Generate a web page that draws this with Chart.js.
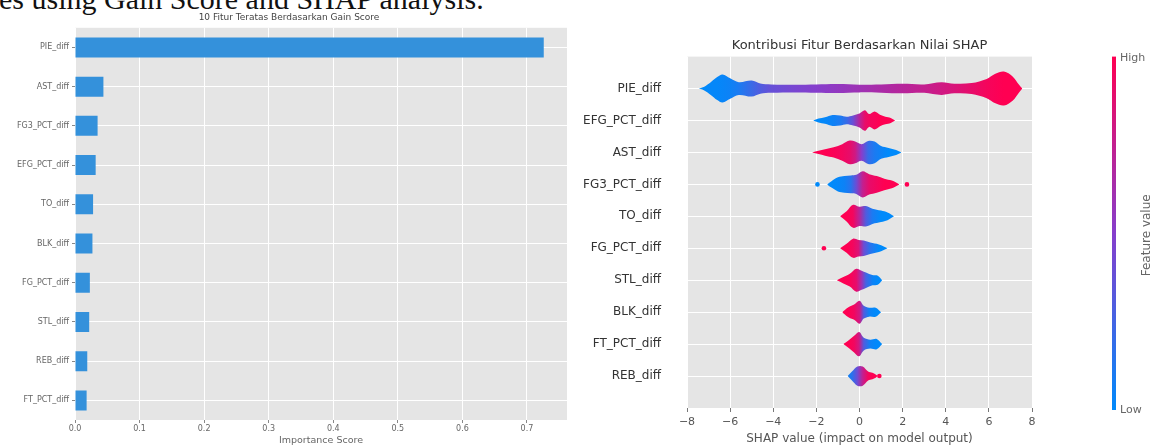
<!DOCTYPE html>
<html>
<head>
<meta charset="utf-8">
<script src="https://cdn.jsdelivr.net/npm/chart.js@4.4.1/dist/chart.umd.min.js"></script>
<style>
  html, body { margin: 0; padding: 0; background: #fff; width: 1155px; height: 446px; overflow: hidden; }
  .caption { position: absolute; left: -1px; top: -15px; font: 30px/28px 'Liberation Serif', serif; color: #111; white-space: nowrap; }
  #gainChart { position: absolute; left: 0; top: 0; }
  #shapChart { position: absolute; left: 570px; top: 0; }
</style>
</head>
<body>
<div class="caption">es using Gain Score and SHAP analysis.</div>
<canvas id="gainChart" width="580" height="446"></canvas>
<canvas id="shapChart" width="585" height="446"></canvas>
<script>
// left panel: gain score
const gainFeatures = ['PIE_diff', 'AST_diff', 'FG3_PCT_diff', 'EFG_PCT_diff', 'TO_diff',
  'BLK_diff', 'FG_PCT_diff', 'STL_diff', 'REB_diff', 'FT_PCT_diff'];
const gainScores = [0.726, 0.044, 0.035, 0.032, 0.028, 0.027, 0.023, 0.022, 0.019, 0.018];
const gainMax = 0.762;

// right panel: SHAP beeswarm, top to bottom
const shapFeatures = ['PIE_diff', 'EFG_PCT_diff', 'AST_diff', 'FG3_PCT_diff', 'TO_diff',
  'FG_PCT_diff', 'STL_diff', 'BLK_diff', 'FT_PCT_diff', 'REB_diff'];
const shapTicks = [-8, -6, -4, -2, 0, 2, 4, 6, 8];

// swarm outline: [shap value, half thickness (rows), feature value 0..1]
const pieSwarm = [[-7.45, 0, 0], [-7.2, 0.06, 0], [-6.9, 0.2, 0.02], [-6.6, 0.36, 0.02], [-6.35, 0.44, 0.03],
  [-6.0, 0.32, 0.05], [-5.6, 0.2, 0.1], [-5.0, 0.25, 0.22], [-4.6, 0.16, 0.3], [-4.1, 0.13, 0.38],
  [-3.0, 0.12, 0.45], [-2.0, 0.13, 0.5], [-1.0, 0.14, 0.55], [0.0, 0.12, 0.6], [1.0, 0.13, 0.65],
  [2.0, 0.15, 0.7], [3.0, 0.13, 0.75], [3.8, 0.2, 0.8], [4.4, 0.15, 0.84], [5.2, 0.17, 0.9],
  [5.9, 0.3, 0.96], [6.3, 0.46, 0.98], [6.7, 0.53, 1], [7.1, 0.38, 1], [7.4, 0.12, 1], [7.55, 0, 1]];
const efgSwarm = [[-2.15, 0, 0], [-1.9, 0.06, 0], [-1.6, 0.1, 0.02], [-1.25, 0.17, 0.05], [-0.9, 0.16, 0.1],
  [-0.6, 0.12, 0.2], [-0.3, 0.16, 0.4], [0.0, 0.22, 0.7], [0.25, 0.32, 0.9], [0.45, 0.2, 0.95],
  [0.7, 0.28, 0.97], [0.95, 0.18, 1], [1.2, 0.12, 1], [1.45, 0.08, 1], [1.65, 0, 1]];
const astSwarm = [[-2.2, 0, 1], [-1.9, 0.05, 1], [-1.6, 0.1, 1], [-1.2, 0.16, 0.98], [-0.8, 0.26, 0.95],
  [-0.45, 0.37, 0.9], [-0.2, 0.34, 0.8], [0.1, 0.26, 0.5], [0.4, 0.36, 0.2], [0.7, 0.34, 0.1],
  [1.0, 0.2, 0.05], [1.35, 0.14, 0], [1.7, 0.08, 0], [1.95, 0, 0]];
const fg3Swarm = [[-1.5, 0, 0], [-1.3, 0.1, 0], [-1.0, 0.22, 0.02], [-0.7, 0.26, 0.05], [-0.4, 0.28, 0.15],
  [-0.15, 0.3, 0.4], [0.15, 0.41, 0.75], [0.45, 0.32, 0.9], [0.8, 0.26, 0.95], [1.15, 0.18, 1],
  [1.5, 0.12, 1], [1.85, 0, 1]];
const toSwarm = [[-0.9, 0, 1], [-0.6, 0.16, 1], [-0.3, 0.36, 0.95], [0.0, 0.3, 0.7], [0.3, 0.32, 0.3],
  [0.6, 0.24, 0.1], [1.0, 0.18, 0], [1.3, 0.12, 0], [1.6, 0, 0]];
const fgSwarm = [[-0.9, 0, 1], [-0.6, 0.14, 1], [-0.3, 0.3, 0.95], [-0.05, 0.26, 0.85], [0.2, 0.24, 0.4],
  [0.5, 0.18, 0.15], [0.9, 0.12, 0], [1.3, 0, 0]];
const stlSwarm = [[-1.05, 0, 1], [-0.75, 0.1, 1], [-0.45, 0.2, 0.98], [-0.15, 0.36, 0.9], [0.1, 0.3, 0.6],
  [0.3, 0.24, 0.25], [0.6, 0.16, 0.05], [0.85, 0.14, 0], [1.05, 0, 0]];
const blkSwarm = [[-0.8, 0, 1], [-0.55, 0.14, 1], [-0.25, 0.24, 0.95], [0.0, 0.36, 0.8], [0.2, 0.2, 0.3],
  [0.45, 0.14, 0.05], [0.75, 0.14, 0], [1.0, 0, 0]];
const ftSwarm = [[-0.75, 0, 1], [-0.5, 0.12, 1], [-0.25, 0.26, 0.95], [-0.02, 0.38, 0.8], [0.2, 0.2, 0.3],
  [0.5, 0.14, 0.05], [0.8, 0.16, 0], [1.05, 0, 0]];
const rebSwarm = [[-0.55, 0, 0.05], [-0.35, 0.14, 0.15], [-0.1, 0.3, 0.4], [0.15, 0.3, 0.75],
  [0.4, 0.14, 0.95], [0.6, 0.1, 1], [0.75, 0.05, 1], [0.85, 0, 1]];
const swarms = [pieSwarm, efgSwarm, astSwarm, fg3Swarm, toSwarm, fgSwarm, stlSwarm, blkSwarm, ftSwarm, rebSwarm];

// single stray dots: [feature, shap value, feature value]
const shapOutliers = [['FG3_PCT_diff', -1.95, 0], ['FG3_PCT_diff', 2.2, 1],
  ['FG_PCT_diff', -1.65, 1], ['REB_diff', 0.92, 1]];

Chart.defaults.font.family = "'DejaVu Sans', sans-serif";

// ggplot grey panel
const panelBg = {
  id: 'panelBg',
  beforeDraw(chart) {
    const { ctx, chartArea: a } = chart;
    ctx.save();
    ctx.fillStyle = '#e5e5e5';
    ctx.fillRect(a.left, a.top, a.right - a.left, a.bottom - a.top);
    ctx.restore();
  }
};

new Chart(document.getElementById('gainChart'), {
  type: 'bar',
  data: {
    labels: gainFeatures,
    datasets: [{
      data: gainScores,
      backgroundColor: '#3491db',
      barPercentage: 0.51,
      categoryPercentage: 1
    }]
  },
  options: {
    indexAxis: 'y',
    responsive: false,
    animation: false,
    layout: { padding: { left: 11, right: 13, top: 0, bottom: 0 } },
    plugins: {
      legend: { display: false },
      tooltip: { enabled: false },
      title: {
        display: true,
        text: '10 Fitur Teratas Berdasarkan Gain Score',
        color: '#444',
        font: { size: 9, weight: 'normal' },
        padding: { top: 12, bottom: 5 }
      }
    },
    scales: {
      x: {
        min: 0,
        max: gainMax,
        border: { display: false },
        grid: { color: '#ffffff', tickLength: 3, tickColor: '#888' },
        ticks: {
          stepSize: 0.1, includeBounds: false, maxRotation: 0,
          color: '#666', font: { size: 8 }, padding: 1,
          callback: v => v.toFixed(1)
        },
        title: { display: true, text: 'Importance Score', color: '#666', font: { size: 9.5 }, padding: 0 },
        afterFit: s => { s.height = 26; }
      },
      y: {
        border: { display: false },
        grid: { color: '#ffffff', offset: false, tickLength: 3, tickColor: '#888' },
        ticks: { color: '#666', font: { size: 8 }, padding: 3, autoSkip: false },
        afterFit: s => { s.width = 64; }
      }
    }
  },
  plugins: [panelBg]
});

// SHAP red_blue colormap
const cmap = [[0, [0, 138, 251]], [0.5, [134, 62, 204]], [1, [255, 0, 82]]];
function featureColor(v) {
  for (let i = 1; i < cmap.length; i++) {
    if (v <= cmap[i][0]) {
      const [p0, c0] = cmap[i - 1];
      const [p1, c1] = cmap[i];
      const t = (v - p0) / (p1 - p0);
      const c = c0.map((a, k) => Math.round(a + (c1[k] - a) * t));
      return `rgb(${c[0]},${c[1]},${c[2]})`;
    }
  }
  return 'rgb(255,0,82)';
}

function swarmGradient(chart, swarm) {
  const { ctx, chartArea, scales } = chart;
  if (!chartArea) return featureColor(0.5);
  const x0 = scales.x.getPixelForValue(swarm[0][0]);
  const x1 = scales.x.getPixelForValue(swarm[swarm.length - 1][0]);
  const g = ctx.createLinearGradient(x0, 0, x1, 0);
  swarm.forEach(p => {
    const pos = (scales.x.getPixelForValue(p[0]) - x0) / (x1 - x0);
    g.addColorStop(Math.min(1, Math.max(0, pos)), featureColor(p[2]));
  });
  return g;
}

const shapDatasets = [];
swarms.forEach((swarm, i) => {
  const row = shapFeatures.length - 1 - i;
  const common = {
    borderWidth: 0,
    pointRadius: 0,
    tension: 0.35,
    backgroundColor: ctx => swarmGradient(ctx.chart, swarm)
  };
  shapDatasets.push({ ...common, data: swarm.map(p => ({ x: p[0], y: row + p[1] })), fill: false });
  shapDatasets.push({ ...common, data: swarm.map(p => ({ x: p[0], y: row - p[1] })), fill: '-1' });
});
shapDatasets.push({
  data: shapOutliers.map(o => ({ x: o[1], y: shapFeatures.length - 1 - shapFeatures.indexOf(o[0]), c: o[2] })),
  showLine: false,
  pointRadius: 2.3,
  pointBorderWidth: 0,
  pointBackgroundColor: ctx => featureColor(ctx.raw ? ctx.raw.c : 0.5)
});

// colour bar on the right
const colorBar = {
  id: 'colorBar',
  afterDraw(chart) {
    const { ctx, chartArea: a } = chart;
    const x = 542, w = 4;
    const g = ctx.createLinearGradient(0, a.bottom + 2, 0, a.top);
    cmap.forEach(([p, c]) => g.addColorStop(p, `rgb(${c[0]},${c[1]},${c[2]})`));
    ctx.save();
    ctx.fillStyle = g;
    ctx.fillRect(x, a.top, w, a.bottom + 2 - a.top);
    ctx.fillStyle = '#666';
    ctx.font = "11px 'DejaVu Sans'";
    ctx.textBaseline = 'middle';
    ctx.textAlign = 'left';
    ctx.fillText('High', x + 8, a.top + 2);
    ctx.fillText('Low', x + 8, a.bottom + 2);
    ctx.translate(577, (a.top + a.bottom) / 2 + 3);
    ctx.rotate(-Math.PI / 2);
    ctx.textAlign = 'center';
    ctx.font = "12px 'DejaVu Sans'";
    ctx.fillText('Feature value', 0, 0);
    ctx.restore();
  }
};

new Chart(document.getElementById('shapChart'), {
  type: 'line',
  data: { datasets: shapDatasets },
  options: {
    responsive: false,
    animation: false,
    layout: { padding: { left: 0, right: 6, top: 0, bottom: 0 } },
    plugins: {
      legend: { display: false },
      tooltip: { enabled: false },
      title: {
        display: true,
        text: 'Kontribusi Fitur Berdasarkan Nilai SHAP',
        color: '#333',
        font: { size: 13, weight: 'normal' },
        padding: { top: 38, bottom: 3 }
      }
    },
    scales: {
      x: {
        type: 'linear',
        min: shapTicks[0],
        max: shapTicks[shapTicks.length - 1],
        border: { display: false },
        grid: { color: '#ffffff', tickLength: 4, tickColor: '#777' },
        afterBuildTicks: s => { s.ticks = shapTicks.map(v => ({ value: v })); },
        ticks: {
          color: '#555', font: { size: 11 }, padding: 4, maxRotation: 0,
          callback: v => (v < 0 ? '\u2212' + Math.abs(v) : String(v))
        },
        title: { display: true, text: 'SHAP value (impact on model output)', color: '#555', font: { size: 12 }, padding: 0 },
        afterFit: s => { s.height = 38; }
      },
      y: {
        type: 'linear',
        min: -1,
        max: shapFeatures.length,
        border: { display: false },
        grid: { color: '#ffffff', drawTicks: false },
        afterBuildTicks: s => { s.ticks = shapFeatures.map((_, i) => ({ value: i })); },
        ticks: {
          color: '#333', font: { size: 12 }, padding: 26, autoSkip: false,
          callback: v => shapFeatures[shapFeatures.length - 1 - v]
        },
        afterFit: s => { s.width = 117; }
      },
      // empty box on the right so the title centres over the panel, like matplotlib
      yPad: {
        axis: 'y',
        position: 'right',
        min: -1,
        max: shapFeatures.length,
        border: { display: false },
        grid: { display: false },
        ticks: { display: false },
        afterFit: s => { s.width = 117; }
      }
    }
  },
  plugins: [panelBg, colorBar]
});
</script>
</body>
</html>
